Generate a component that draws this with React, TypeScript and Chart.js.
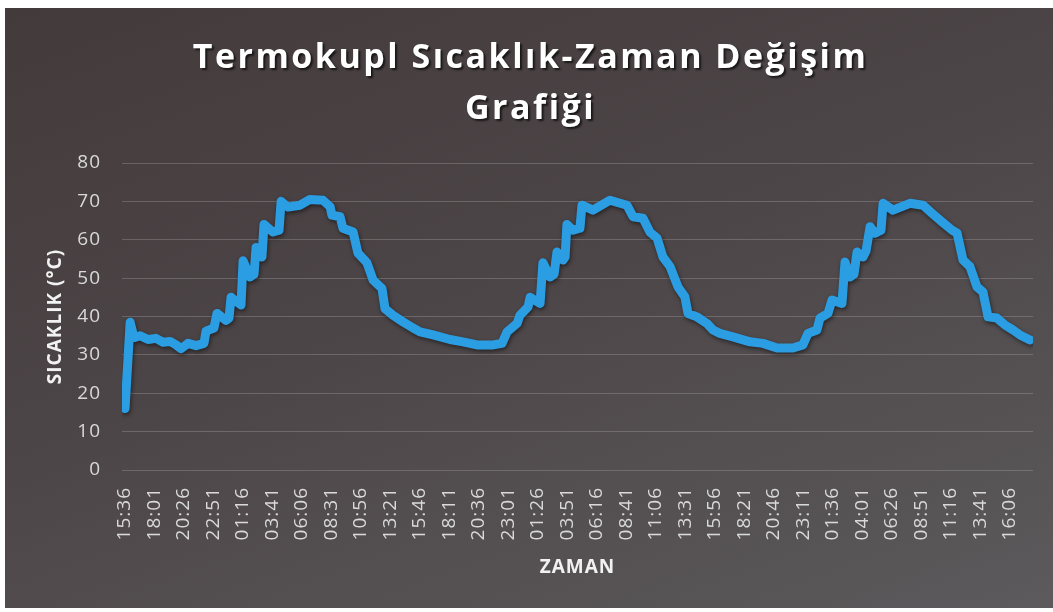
import React, { useEffect, useRef } from "react";
import { Chart, registerables } from "chart.js";

Chart.register(...registerables);

// Category tick labels on the time axis (every 145 minutes)
const TIME_LABELS = [
  "15:36", "18:01", "20:26", "22:51", "01:16", "03:41", "06:06", "08:31",
  "10:56", "13:21", "15:46", "18:11", "20:36", "23:01", "01:26", "03:51",
  "06:16", "08:41", "11:06", "13:31", "15:56", "18:21", "20:46", "23:11",
  "01:36", "04:01", "06:26", "08:51", "11:16", "13:41", "16:06",
];
const LABEL_STEP_MIN = 145;

// Elapsed minutes since 15:36 for each reading
const elapsedMinutes = [
  0, 25, 44, 74, 113, 152, 187, 221, 251, 275, 310, 349, 388, 398, 437, 452,
  496, 511, 521, 570, 580, 614, 634, 644, 673, 683, 727, 757, 767, 801, 860, 909,
  973, 1008, 1017, 1057, 1071, 1121, 1145, 1189, 1219, 1263, 1278, 1317, 1366, 1416,
  1450, 1514, 1597, 1661, 1730, 1809, 1853, 1878, 1927, 1941, 1981, 1991, 2040, 2054,
  2089, 2109, 2123, 2153, 2163, 2172, 2202, 2236, 2246, 2300, 2384, 2467, 2497, 2546,
  2580, 2615, 2644, 2679, 2718, 2752, 2767, 2811, 2860, 2890, 2924, 2988, 3072, 3136,
  3205, 3283, 3332, 3357, 3401, 3416, 3455, 3475, 3524, 3539, 3563, 3583, 3598, 3627,
  3642, 3662, 3686, 3716, 3726, 3775, 3858, 3922, 3967, 4006, 4065, 4090, 4119, 4153,
  4188, 4217, 4242, 4285, 4325, 4364, 4399, 4448,
];

// Thermocouple temperature (°C)
const temperatures = [
  16, 38.5, 34.5, 35, 34, 34.3, 33.3, 33.5, 32.6, 31.6, 33, 32.4, 33, 36.2, 37, 40.8,
  39, 39.6, 45, 43, 54.5, 50.3, 51, 58, 55.5, 64, 62, 62.5, 70, 68.5, 69, 70.5,
  70.3, 68.6, 66.4, 66, 63, 62, 56.5, 54, 49.5, 47.3, 42, 40.3, 38.6, 37,
  36, 35.2, 34, 33.4, 32.6, 32.6, 33, 36, 38.2, 40.3, 42.5, 45, 43.4, 54,
  50.3, 51, 56.8, 54.7, 55.5, 64, 62.5, 63, 69, 67.7, 70.3, 69, 66, 65.6,
  62, 60.4, 55.5, 53, 47.7, 45.1, 40.8, 39.9, 38.2, 36.5, 35.6, 34.7, 33.4, 33,
  31.8, 31.8, 32.6, 35.6, 36.5, 39.6, 40.8, 44.3, 43.4, 54.2, 50.3, 51, 56.8, 55.5,
  57, 63.4, 61.7, 62.5, 69.5, 67.7, 69.5, 69, 66.9, 65.1, 62.5, 61.7, 54.7, 53,
  47.7, 46.4, 39.9, 39.6, 37.8, 36.5, 35.2, 33.9,
];

const Y_MIN = 0;
const Y_MAX = 80;
const Y_STEP = 10;

const TITLE_LINES = ["Termokupl Sıcaklık-Zaman Değişim", "Grafiği"];
const X_TITLE = "ZAMAN";
const Y_TITLE = "SICAKLIK (°C)";

const textPlugin = {
  id: "textStyling",
  beforeDraw(chart: any) {
    const tb = chart.titleBlock;
    if (tb && !tb.__wrapped) {
      const orig = tb.draw.bind(tb);
      tb.draw = (area: any) => {
        const c = chart.ctx;
        c.save();
        c.letterSpacing = "2.5px";
        c.shadowColor = "rgba(0,0,0,0.65)";
        c.shadowOffsetX = 2;
        c.shadowOffsetY = 2;
        c.shadowBlur = 2;
        orig(area);
        c.restore();
      };
      tb.__wrapped = true;
    }
    chart.ctx.letterSpacing = "1px";
  },
  beforeDatasetsDraw(chart: any) {
    const c = chart.ctx;
    c.save();
    c.shadowColor = "rgba(0,0,0,0.5)";
    c.shadowBlur = 4;
    c.shadowOffsetX = 1;
    c.shadowOffsetY = 2;
  },
  afterDatasetsDraw(chart: any) {
    chart.ctx.restore();
  },
  afterDraw(chart: any) {
    chart.ctx.letterSpacing = "0px";
  },
};

export default function App() {
  const canvasRef = useRef<HTMLCanvasElement | null>(null);

  useEffect(() => {
    if (!canvasRef.current) return;
    const points = elapsedMinutes.map((m, i) => ({ x: m, y: temperatures[i] }));
    const chart = new Chart(canvasRef.current, {
      type: "line",
      data: {
        datasets: [
          {
            label: "Sıcaklık",
            data: points,
            borderColor: "#2a9de3",
            borderWidth: 9,
            pointRadius: 0,
            tension: 0,
            borderJoinStyle: "round",
            borderCapStyle: "round",
            fill: false,
          },
        ],
      },
      options: {
        animation: false,
        responsive: true,
        maintainAspectRatio: false,
        layout: { padding: { left: 28, right: 20, top: 0, bottom: 0 } },
        plugins: {
          legend: { display: false },
          tooltip: { enabled: false },
          title: {
            display: true,
            text: TITLE_LINES,
            color: "#ffffff",
            font: { family: "'Open Sans', sans-serif", size: 34, weight: "bold", lineHeight: 51 / 34 },
            padding: { top: 33, bottom: 28 },
          },
        },
        scales: {
          x: {
            type: "linear",
            min: -15,
            max: 4463,
            afterFit(scale: any) {
              scale.height = 142;
            },
            afterBuildTicks(scale: any) {
              scale.ticks = TIME_LABELS.map((_, i) => ({ value: i * LABEL_STEP_MIN }));
            },
            grid: { display: false, drawTicks: false },
            border: { display: false },
            ticks: {
              autoSkip: false,
              maxRotation: 90,
              minRotation: 90,
              padding: 17,
              color: "#d9d9d9",
              font: { family: "'Open Sans', sans-serif", size: 19 },
              callback: (v: any) => TIME_LABELS[Math.round(Number(v) / LABEL_STEP_MIN)],
            },
            title: {
              display: true,
              text: X_TITLE,
              color: "#f2f2f2",
              font: { family: "'Open Sans', sans-serif", size: 19, weight: "bold", lineHeight: 1.2 },
              padding: { top: 0, bottom: 32.6 },
            },
          },
          y: {
            min: Y_MIN,
            max: Y_MAX,
            afterFit(scale: any) {
              scale.width = 94;
            },
            grid: { color: "rgba(225,225,225,0.22)", lineWidth: 1, drawTicks: false },
            border: { display: false },
            ticks: {
              stepSize: Y_STEP,
              padding: 21,
              color: "#d9d9d9",
              font: { family: "'Open Sans', sans-serif", size: 19 },
            },
            title: {
              display: true,
              text: Y_TITLE,
              color: "#f2f2f2",
              font: { family: "'Open Sans', sans-serif", size: 19, weight: "bold", lineHeight: 1.2 },
              padding: { top: 16, bottom: 0 },
            },
          },
        },
      },
      plugins: [textPlugin],
    } as any);
    return () => chart.destroy();
  }, []);

  return (
    <div style={{ position: "fixed", left: 0, top: 0, width: 1053, height: 612, background: "#ffffff" }}>
      <div
        style={{
          position: "absolute",
          left: 5,
          top: 8,
          right: 0,
          bottom: 4,
          background: "linear-gradient(160deg, #433a3b 0%, #4c4547 45%, #5c5a5c 100%)",
        }}
      />
      <div style={{ position: "absolute", left: 0, top: 0, width: 1053, height: 612 }}>
        <canvas ref={canvasRef} />
      </div>
    </div>
  );
}
